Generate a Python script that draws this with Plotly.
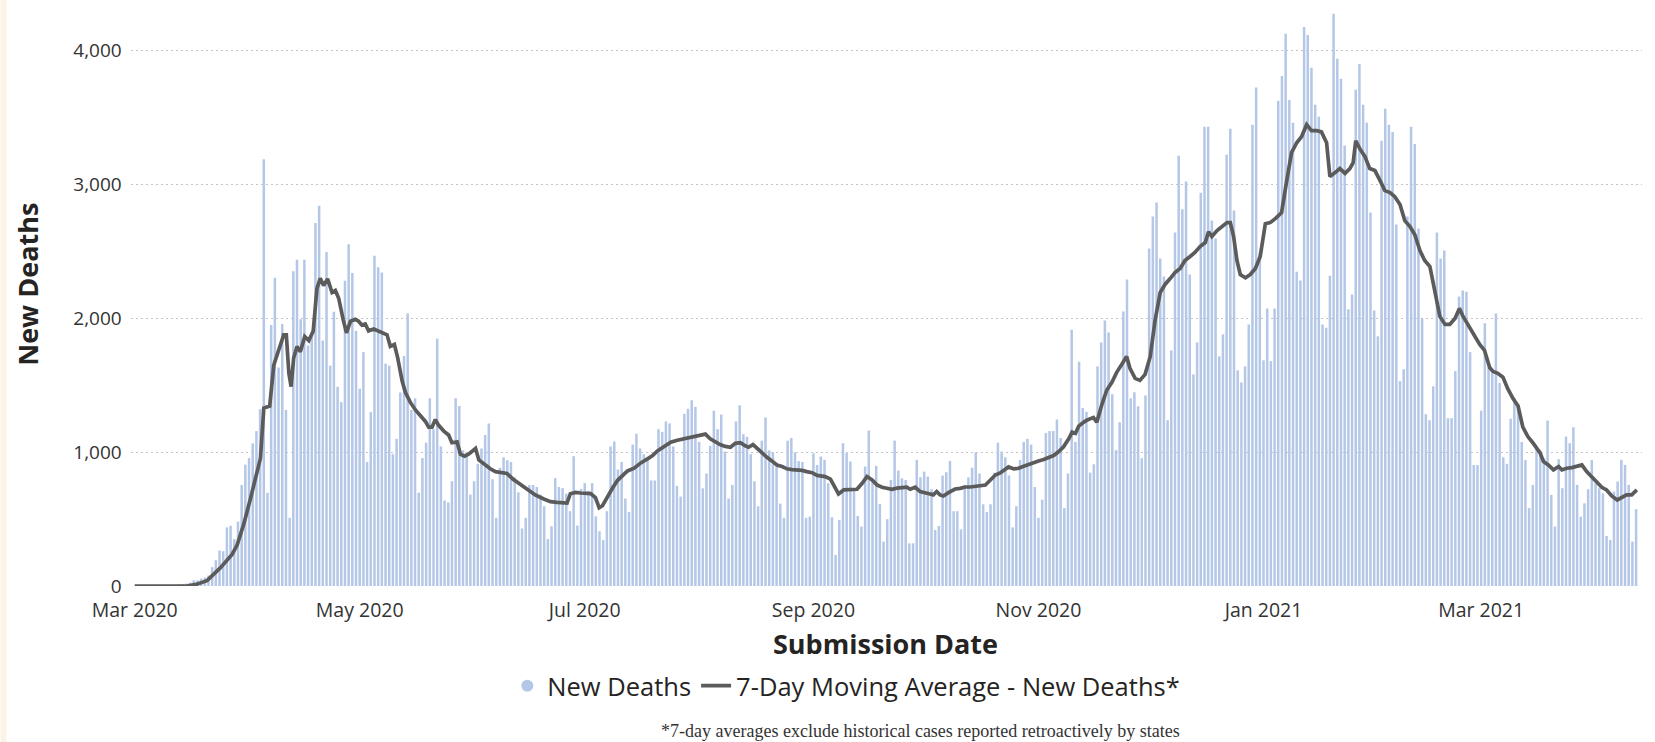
import pandas as pd
import plotly.graph_objects as go

# ---------------- data ----------------
start_date = "2020-03-01"

# daily New Deaths, one value per submission day starting 2020-03-01
new_deaths = [
    0, 0, 1, 1, 2, 2, 2, 3, 3, 4,
    5, 7, 9, 12, 18, 25, 43, 43, 55, 63,
    78, 141, 193, 265, 260, 438, 450, 351, 481, 755,
    907, 956, 1066, 1158, 1322, 3190, 697, 1950, 2304, 1633,
    1958, 1316, 510, 2353, 2439, 1993, 2439, 1797, 1878, 2713,
    2843, 1835, 2497, 1647, 2050, 1489, 1374, 2281, 2555, 2339,
    1907, 1475, 1748, 927, 1300, 2468, 2382, 2344, 1662, 1647,
    985, 1100, 1446, 1719, 2036, 1316, 1403, 697, 956, 1071,
    1403, 1172, 1849, 1043, 639, 625, 783, 1403, 1345, 1014,
    999, 683, 783, 913, 1028, 1129, 1215, 798, 510, 884,
    962, 940, 927, 812, 700, 430, 510, 755, 755, 740,
    683, 596, 351, 446, 806, 740, 732, 691, 559, 970,
    452, 726, 769, 711, 769, 520, 409, 343, 559, 1043,
    1080, 870, 927, 654, 553, 1057, 1138, 1028, 985, 942,
    789, 789, 1172, 1152, 1230, 1215, 1043, 749, 668, 1287,
    1325, 1388, 1339, 1077, 730, 840, 1048, 1310, 1172, 1281,
    1005, 654, 755, 1230, 1351, 1135, 1115, 985, 783, 596,
    1086, 1259, 1014, 999, 893, 616, 510, 1086, 1106, 999,
    933, 927, 510, 518, 991, 904, 968, 943, 768, 514,
    232, 494, 1067, 993, 930, 718, 524, 444, 893, 1162,
    781, 898, 613, 332, 499, 793, 1087, 863, 805, 793,
    319, 319, 943, 813, 855, 818, 723, 419, 449, 825,
    850, 935, 559, 559, 424, 755, 812, 884, 999, 841,
    611, 553, 611, 847, 1071, 1005, 962, 827, 438, 596,
    942, 1077, 1100, 1057, 740, 510, 645, 1143, 1158, 1158,
    1244, 1106, 582, 841, 1915, 1077, 1676, 1330, 1302, 847,
    910, 1642, 1821, 1985, 1895, 1433, 1015, 1224, 2051, 2290,
    1403, 1448, 1343, 955, 1424, 2522, 2761, 2866, 2448, 2313,
    1239, 1761, 2642, 3215, 2815, 3024, 2328, 1582, 1821, 2940,
    3433, 3433, 2731, 2597, 1716, 1881, 3224, 3418, 2806, 1612,
    1522, 1642, 1955, 3448, 3725, 2493, 1687, 2075, 1681, 2075,
    3627, 3812, 4128, 3633, 3463, 2349, 2284, 4179, 4119, 3874,
    3597, 3507, 1955, 1931, 2319, 4278, 3940, 3791, 3292, 2069,
    2179, 3710, 3901, 3597, 3463, 2791, 2060, 1866, 3328, 3567,
    3448, 3394, 2701, 1531, 1621, 2761, 3433, 3304, 2672, 2000,
    1284, 1239, 1493, 2642, 2448, 2507, 1254, 1254, 1606, 2164,
    2209, 2200, 1748, 904, 904, 1310, 1964, 1633, 1590, 2036,
    1518, 962, 913, 1250, 1403, 1359, 1077, 942, 582, 755,
    1020, 1017, 955, 1237, 681, 444, 948, 731, 1117, 1067,
    1187, 756, 519, 618, 723, 943, 768, 731, 693, 374,
    344, 706, 781, 943, 905, 756, 332, 574,
]

# 7-day moving average, read at points along the line (days after start_date)
ma_day = [
    0, 7, 14.2, 17, 19.6, 23.2, 26.4, 27.8, 29.6, 31.4, 33.2, 34.1, 35.0, 36.6, 37.7,
    39.1, 40.4, 41.1, 41.8, 42.4, 43.1, 44.0, 44.9, 46.1, 47.2, 48.4, 49.4, 50.3,
    51.2, 52.3, 53.5, 54.4, 55.3, 56.5, 57.4, 58.5, 59.8, 60.7, 61.6, 62.5, 63.4,
    64.8, 66.1, 67.5, 68.4, 69.3, 70.4, 71.3, 72.5, 73.4, 74.7, 76.1, 77.4, 78.8,
    79.7, 80.6, 81.5, 82.4, 83.8, 85.1, 86.0, 87.4, 88.3, 89.4, 90.5, 92.4, 93.3,
    94.6, 96.4, 97.8, 99.6, 100.9, 102.5, 104.0, 106.3, 108.6, 110.9, 112.7, 114.5,
    117.2, 118.1, 119.5, 120.9, 123.6, 124.9, 125.9, 126.8, 128.2, 129.5, 130.9,
    132.3, 133.6, 135.4, 137.2, 139.0, 140.4, 141.7, 143.5, 145.3, 147.1, 148.9,
    150.7, 152.5, 153.3, 154.7, 156.0, 157.4, 158.7, 160.1, 161.5, 162.8, 164.2,
    165.5, 166.4, 167.6, 168.7, 170.1, 171.4, 172.8, 174.1, 175.5, 176.8, 178.2,
    179.5, 180.9, 182.2, 183.6, 185.0, 185.9, 187.2, 188.6, 189.9, 190.8, 192.2,
    193.5, 194.9, 195.8, 197.2, 198.5, 199.9, 201.2, 202.6, 203.9, 205.3, 206.6,
    208.0, 209.3, 210.2, 211.6, 212.9, 214.3, 215.6, 216.5, 217.4, 218.3, 219.2,
    220.6, 222.4, 223.8, 225.1, 226.5, 227.8, 229.2, 230.6, 231.9, 233.3, 234.6,
    236.0, 236.9, 238.3, 239.6, 241.0, 242.3, 243.7, 245.0, 246.4, 247.7, 249.1,
    250.5, 251.8, 253.2, 254.1, 255.0, 255.9, 257.3, 258.1, 259.9, 260.8, 262.2,
    263.5, 264.9, 266.2, 267.6, 268.9, 269.8, 271.2, 272.5, 273.9, 275.3, 276.6,
    278.0, 279.3, 280.7, 282.0, 283.4, 284.7, 286.1, 287.4, 288.8, 290.2, 291.1,
    292.0, 293.4, 294.7, 296.1, 297.0, 297.9, 298.8, 299.7, 301.1, 302.4, 303.8,
    305.1, 306.5, 307.8, 309.2, 310.9, 312.3, 313.6, 315.0, 316.3, 317.7, 319.0,
    320.4, 321.7, 323.1, 324.0, 325.4, 326.7, 328.1, 329.4, 330.3, 331.0, 332.1,
    333.5, 334.8, 336.2, 337.6, 338.9, 340.3, 341.6, 343.0, 344.3, 345.7, 347.0,
    348.4, 349.7, 351.1, 352.5, 353.8, 355.2, 356.5, 357.9, 359.1, 360.1, 361.8,
    363.2, 364.6, 365.9, 367.3, 368.2, 369.5, 370.9, 372.2, 373.6, 375.0, 376.3,
    377.7, 379.0, 380.4, 381.0, 381.9, 383.2, 384.6, 386.0, 386.9, 388.2, 389.6,
    391.0, 392.3, 393.6, 395.0, 396.3, 397.7, 399.0, 400.4, 401.9, 403.1, 404.4,
    405.8, 407.2,
]
ma_value = [
    0, 0, 0, 15, 40, 135, 236, 308, 466, 654, 840, 956, 1330, 1345, 1650,
    1760, 1878, 1878, 1590, 1490, 1705, 1790, 1750, 1865, 1835, 1906, 2223, 2300,
    2246, 2295, 2194, 2209, 2151, 1993, 1892, 1979, 1993, 1979, 1950, 1958, 1907,
    1921, 1907, 1892, 1878, 1791, 1806, 1705, 1532, 1446, 1374, 1316, 1273, 1230,
    1187, 1187, 1244, 1201, 1158, 1129, 1071, 1077, 985, 970, 985, 1028, 942,
    913, 876, 855, 847, 841, 800, 770, 720, 680, 650, 630, 625,
    620, 690, 700, 695, 690, 660, 585, 600, 670, 730, 790,
    830, 860, 880, 920, 950, 975, 1010, 1045, 1075, 1090, 1100,
    1112, 1122, 1123, 1135, 1100, 1077, 1057, 1043, 1037, 1066, 1071,
    1048, 1037, 1057, 1028, 991, 962, 933, 904, 893, 876, 870,
    870, 864, 855, 847, 827, 823, 818, 798, 738, 688, 718,
    718, 718, 723, 768, 818, 793, 756, 738, 731, 723, 731,
    738, 738, 723, 738, 706, 693, 688, 681, 706, 681, 673,
    698, 725, 730, 740, 740, 745, 750, 755, 790, 830, 845,
    870, 890, 875, 880, 895, 910, 925, 935, 945, 960, 975,
    1005, 1040, 1100, 1150, 1140, 1195, 1225, 1239, 1260, 1224, 1358,
    1463, 1522, 1597, 1657, 1716, 1627, 1552, 1537, 1582, 1716, 1985,
    2194, 2254, 2298, 2343, 2373, 2433, 2463, 2493, 2537, 2567, 2648,
    2612, 2657, 2687, 2716, 2716, 2612, 2433, 2328, 2304, 2328, 2373,
    2463, 2707, 2716, 2746, 2791, 3030, 3239, 3313, 3358, 3448, 3403,
    3403, 3394, 3313, 3060, 3090, 3120, 3084, 3120, 3164, 3328, 3269,
    3209, 3120, 3105, 3030, 2955, 2940, 2910, 2851, 2731, 2687, 2627,
    2507, 2433, 2388, 2179, 2015, 1955, 1955, 2000, 2075, 2015, 1935,
    1878, 1806, 1762, 1633, 1604, 1590, 1561, 1475, 1403, 1345, 1187,
    1115, 1071, 1014, 993, 930, 905, 868, 893, 868, 880, 885,
    893, 905, 855, 818, 781, 738, 718, 673, 643, 663, 681,
    681, 718,
]

y_ticks = [0, 1000, 2000, 3000, 4000]
bar_name = "New Deaths"
line_name = "7-Day Moving Average - New Deaths*"
x_title = "Submission Date"
y_title = "New Deaths"
footnote = "*7-day averages exclude historical cases reported retroactively by states"

# ---------------- figure ----------------
start = pd.Timestamp(start_date)
bar_dates = [start + pd.Timedelta(days=i) for i in range(len(new_deaths))]
ma_dates = [start + pd.Timedelta(days=float(d)) for d in ma_day]

W, H = 1655, 742
L, R, T, B = 130.5, 13.1, 4.4, 156.0
pw, ph = W - L - R, H - T - B


def px(x):
    return (x - L) / pw


def py(y):
    return (H - B - y) / ph


BAR_COLOR = "#B4C7E7"
LINE_COLOR = "#5B5B5B"
FONT = "Segoe UI, Open Sans, sans-serif"
TEXT = "#252423"

fig = go.Figure()
fig.add_trace(go.Bar(x=bar_dates, y=new_deaths, name=bar_name,
                     marker=dict(color=BAR_COLOR, line=dict(width=0)),
                     showlegend=False))
fig.add_trace(go.Scatter(x=[None], y=[None], mode="markers", name=bar_name,
                         marker=dict(symbol="circle", size=12, color=BAR_COLOR)))
fig.add_trace(go.Scatter(x=ma_dates, y=ma_value, mode="lines", name=line_name,
                         line=dict(color=LINE_COLOR, width=3.7)))

fig.update_layout(
    width=W, height=H,
    margin=dict(l=L, r=R, t=T, b=B, pad=0),
    paper_bgcolor="white", plot_bgcolor="white",
    bargap=0.32,
    font=dict(family=FONT, color=TEXT),
    showlegend=True,
    legend=dict(orientation="h", x=px(846), y=py(686), xanchor="center", yanchor="middle",
                font=dict(size=25.5, color=TEXT), itemwidth=30,
                bgcolor="rgba(0,0,0,0)", traceorder="normal"),
    xaxis=dict(type="date",
               range=[start - pd.Timedelta(days=1), start + pd.Timedelta(days=408.6)],
               tick0=start_date, dtick="M2", tickformat="%b %Y",
               showgrid=False, zeroline=False, showline=False,
               ticks="outside", ticklen=7, tickcolor="rgba(0,0,0,0)",
               tickfont=dict(size=19.5, color="#333333"), automargin=False),
    yaxis=dict(range=[0, 4350], tickvals=y_ticks, tickformat=",",
               showgrid=True, gridcolor="#C4C4C4", griddash="2px,3px", gridwidth=1,
               zeroline=False, showline=False,
               ticks="outside", ticklen=4.5, tickcolor="rgba(0,0,0,0)",
               tickfont=dict(size=19, color="#333333"), automargin=False),
    shapes=[dict(type="rect", xref="paper", yref="paper",
                 x0=px(0), x1=px(6), y0=py(H), y1=py(0),
                 fillcolor="#FBF3E6", line=dict(width=0), layer="below")],
    annotations=[
        dict(text="<b>" + x_title + "</b>", xref="paper", yref="paper",
             x=px(885), y=py(643), xanchor="center", yanchor="middle", showarrow=False,
             font=dict(size=27, color=TEXT)),
        dict(text="<b>" + y_title + "</b>", xref="paper", yref="paper",
             x=px(27.5), y=py(285), xanchor="center", yanchor="middle", showarrow=False,
             textangle=-90, font=dict(size=27, color=TEXT)),
        dict(text=footnote, xref="paper", yref="paper",
             x=px(920), y=py(731), xanchor="center", yanchor="middle", showarrow=False,
             font=dict(size=18, family="Georgia, Liberation Serif, serif", color="#333333")),
    ],
)

fig.write_html("out.html",
               config={"displayModeBar": False},
               post_script="document.body.style.margin='0px';"
                           "document.body.style.padding='0px';"
                           "document.body.style.overflow='hidden';")
